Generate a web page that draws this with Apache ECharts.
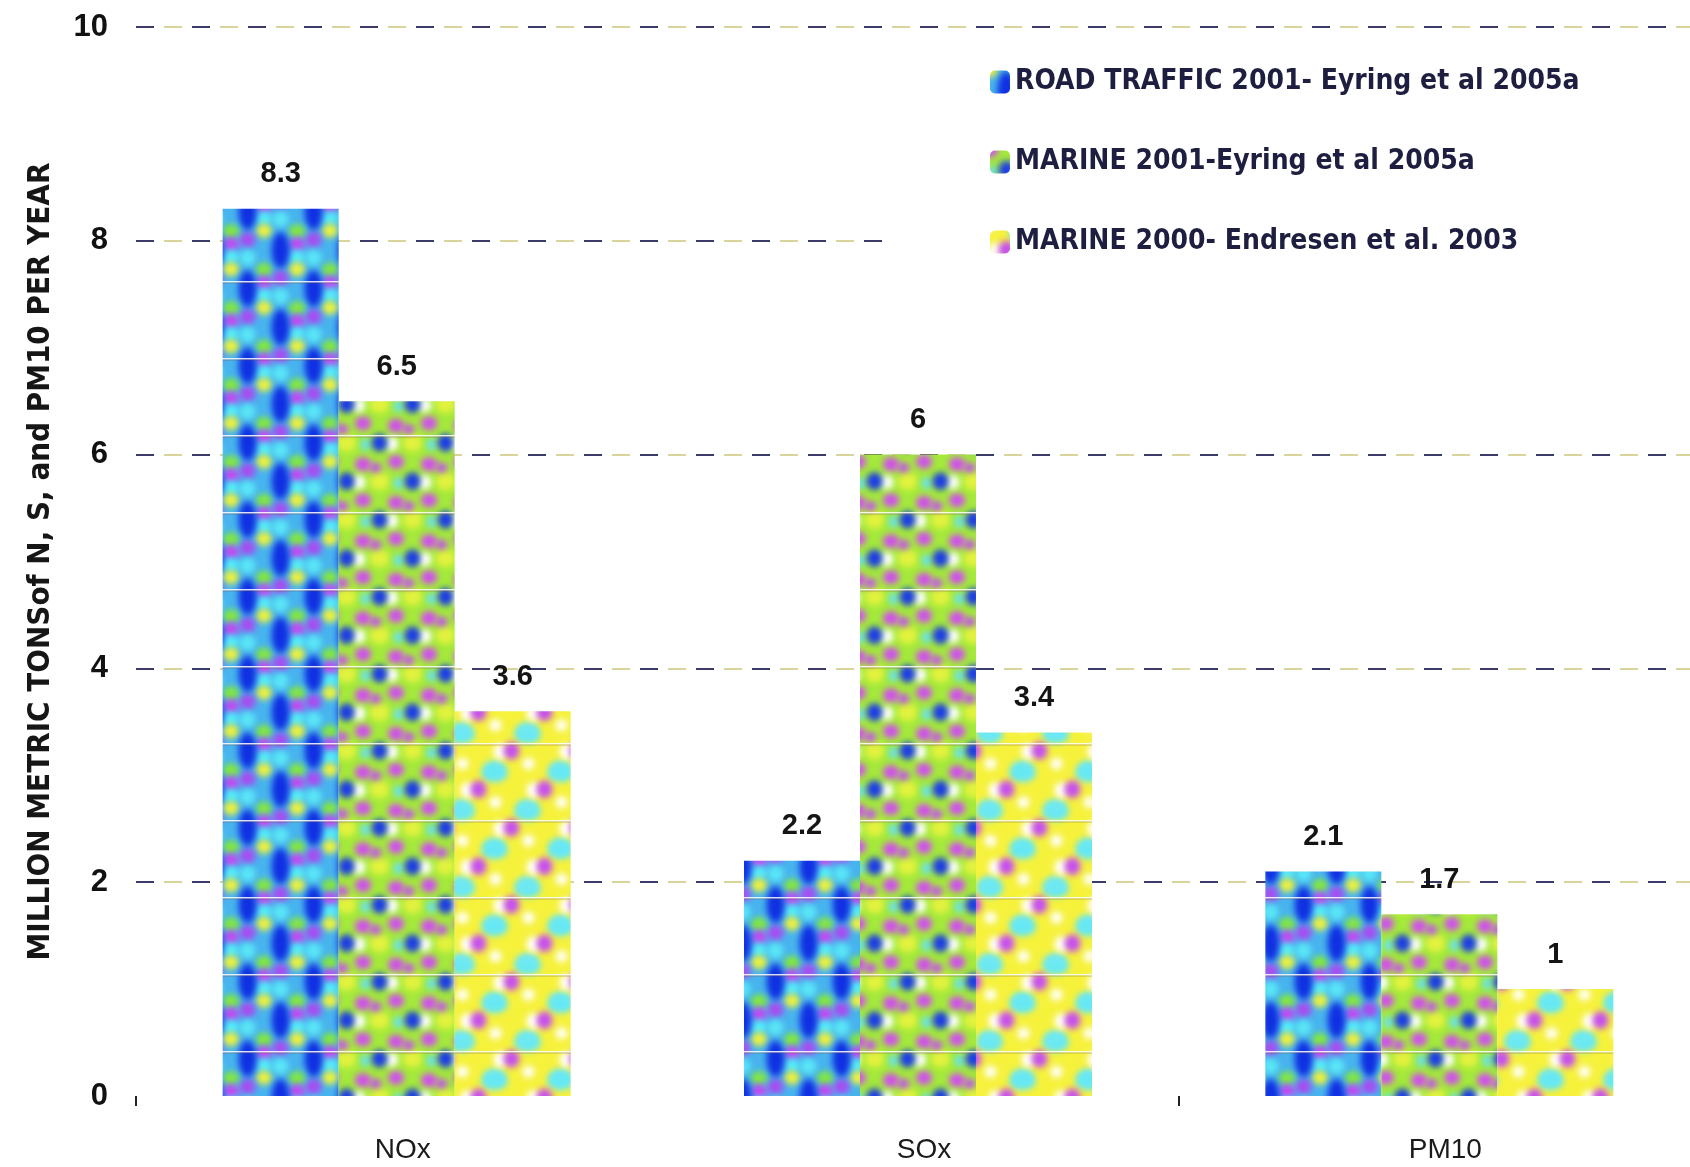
<!DOCTYPE html>
<html>
<head>
<meta charset="utf-8">
<title>Emissions of N, S and PM10</title>
<script src="https://cdn.jsdelivr.net/npm/echarts@6/dist/echarts.min.js"></script>
<style>
  html, body { margin: 0; padding: 0; background: #fff; }
  #chart { width: 1690px; height: 1167px; }
</style>
</head>
<body>
<div id="chart"></div>
<script>
// ---- data ----
const categories = ['NOx', 'SOx', 'PM10'];
const seriesNames = [
  'ROAD TRAFFIC 2001- Eyring et al 2005a',
  'MARINE 2001-Eyring et al 2005a',
  'MARINE 2000- Endresen et al. 2003'
];
const roadTraffic2001 = [8.3, 2.2, 2.1];
const marine2001 = [6.5, 6, 1.7];
const marine2000 = [3.6, 3.4, 1];
const yMin = 0, yMax = 10, yStep = 2;

// ---- patterned fills ----
// Builds a seamless tile: soft blobs drawn on a 3x3 canvas, centre cell cut out,
// then a faint seam stripe across it.
function makeTile(w, h, base, spots, blur, seamY) {
  const big = document.createElement('canvas');
  big.width = 3 * w; big.height = 3 * h;
  const g = big.getContext('2d');
  g.fillStyle = base;
  g.fillRect(0, 0, 3 * w, 3 * h);
  g.filter = 'blur(' + blur + 'px)';
  for (let ox = -1; ox <= 3; ox++) {
    for (let oy = -1; oy <= 3; oy++) {
      spots.forEach(function (s) {
        g.fillStyle = s[4];
        g.beginPath();
        g.ellipse(s[0] + ox * w, s[1] + oy * h, s[2], s[3], 0, 0, Math.PI * 2);
        g.fill();
      });
    }
  }
  g.filter = 'none';
  const t = document.createElement('canvas');
  t.width = w; t.height = h;
  const c = t.getContext('2d');
  c.drawImage(big, w, h, w, h, 0, 0, w, h);
  c.fillStyle = 'rgba(255,255,255,0.85)';
  c.fillRect(0, seamY - 1, w, 1.5);
  c.fillStyle = 'rgba(110,70,40,0.35)';
  c.fillRect(0, seamY + 0.5, w, 1);
  return t;
}

// two lattice points per tile, in a checker arrangement
function lattice(w, h, fn) {
  const pts = [[w * 0.25, h * 0.25], [w * 0.75, h * 0.75]];
  let out = [];
  pts.forEach(function (p) { out = out.concat(fn(p[0], p[1])); });
  return out;
}

const TW = 66, TH = 77, SEAM = 51;

const roadTile = makeTile(TW, TH, '#48b4ee', lattice(TW, TH, function (x, y) {
  return [
    [x + 16.5, y - 19, 8, 7, '#84e83a'],
    [x + 16.5, y - 6, 8, 7, '#c448f0'],
    [x + 16.5, y + 7, 8, 7, '#56ecf8'],
    [x + 16.5, y + 19, 8, 7, '#eef23a'],
    [x, y + 28, 8, 8, '#a84cf0'],
    [x, y + 46, 8, 8, '#5ae6f6'],
    [x, y, 9, 18, '#1030e2']
  ];
}), 3, SEAM);

const marine01Tile = makeTile(TW, TH, '#a4ea3a', lattice(TW, TH, function (x, y) {
  return [
    [x + 16.5, y - 17, 8, 7, '#d24cf0'],
    [x + 16.5, y + 19, 8, 7, '#d04ef0'],
    [x, y + 38.5, 10, 9, '#e2f23e'],
    [x - 4, y + 25, 6, 5, '#c650f0'],
    [x + 12, y + 1, 7, 7, '#ffffff'],
    [x - 14, y + 2, 5, 6, '#66e2f2'],
    [x, y, 8, 9, '#1c3ce6']
  ];
}), 3, SEAM);

const marine00Tile = makeTile(TW, TH, '#f6f23c', lattice(TW, TH, function (x, y) {
  return [
    [x + 16, y - 16, 13, 9, '#66e8f4'],
    [x - 17, y + 18, 11, 8, '#6ee8f2'],
    [x - 11, y + 1, 7, 8, '#ffffff'],
    [x + 17, y + 13, 6, 6, '#ffffff'],
    [x, y, 8, 9, '#c64ef2']
  ];
}), 3, SEAM);

function pattern(img) {
  return { image: img, repeat: 'repeat' };
}

// ---- chart ----
const FONT = "'Liberation Sans', Arial, sans-serif";
const COND = "'DejaVu Sans Condensed', 'DejaVu Sans', sans-serif";
const chart = echarts.init(document.getElementById('chart'), null, { renderer: 'canvas' });

const valueLabel = {
  show: true,
  position: 'top',
  distance: 20,
  fontFamily: FONT,
  fontWeight: 'bold',
  fontSize: 29,
  color: '#141414'
};

function barSeries(name, data, img) {
  return {
    name: name,
    type: 'bar',
    data: data,
    barWidth: 116,
    barGap: '0%',
    itemStyle: { color: pattern(img) },
    label: valueLabel,
    emphasis: { disabled: true },
    z: 3
  };
}

chart.setOption({
  animation: false,
  backgroundColor: '#ffffff',
  grid: {
    left: 136, top: 27, width: 1564, bottom: 71,
    containLabel: false,
    outerBoundsMode: 'none'
  },
  legend: {
    orient: 'vertical',
    left: 884,
    top: 55,
    padding: [13, 400, 10, 106],
    backgroundColor: '#ffffff',
    itemWidth: 20,
    itemHeight: 23,
    itemGap: 52,
    selectedMode: false,
    textStyle: {
      fontFamily: COND,
      fontWeight: 'bold',
      fontSize: 28,
      lineHeight: 28,
      color: '#1e1e40'
    },
    data: seriesNames
  },
  xAxis: {
    type: 'category',
    data: categories,
    axisLine: { show: false },
    axisTick: {
      show: true,
      length: 10,
      interval: function (index) { return index === 0 || index === 2; },
      lineStyle: { color: '#222', width: 2 }
    },
    axisLabel: {
      margin: 40,
      padding: [0, 0, 0, 12],
      fontFamily: FONT,
      fontSize: 28,
      color: '#1a1a1a'
    }
  },
  yAxis: [{
    type: 'value',
    min: yMin,
    max: yMax,
    interval: yStep,
    name: 'MILLION METRIC TONSof N, S, and PM10 PER YEAR',
    nameLocation: 'middle',
    nameGap: 80,
    nameTextStyle: {
      fontFamily: COND,
      fontWeight: 'bold',
      fontSize: 31,
      color: '#161616'
    },
    axisLine: { show: false },
    axisTick: { show: false },
    axisLabel: {
      margin: 28,
      fontFamily: FONT,
      fontWeight: 'bold',
      fontSize: 31,
      color: '#111'
    },
    splitLine: {
      show: true,
      showMinLine: false,
      lineStyle: { color: '#3c3c6a', width: 2, type: [18, 38] }
    }
  }, {
    // second set of light dashes interleaved with the dark ones
    type: 'value',
    min: yMin,
    max: yMax,
    interval: yStep,
    position: 'left',
    axisLine: { show: false },
    axisTick: { show: false },
    axisLabel: { show: false },
    splitLine: {
      show: true,
      showMinLine: false,
      lineStyle: { color: '#d8d49a', width: 2, type: [18, 38], dashOffset: -28 }
    }
  }],
  series: [
    barSeries(seriesNames[0], roadTraffic2001, roadTile),
    barSeries(seriesNames[1], marine2001, marine01Tile),
    barSeries(seriesNames[2], marine2000, marine00Tile)
  ]
});
</script>
</body>
</html>
